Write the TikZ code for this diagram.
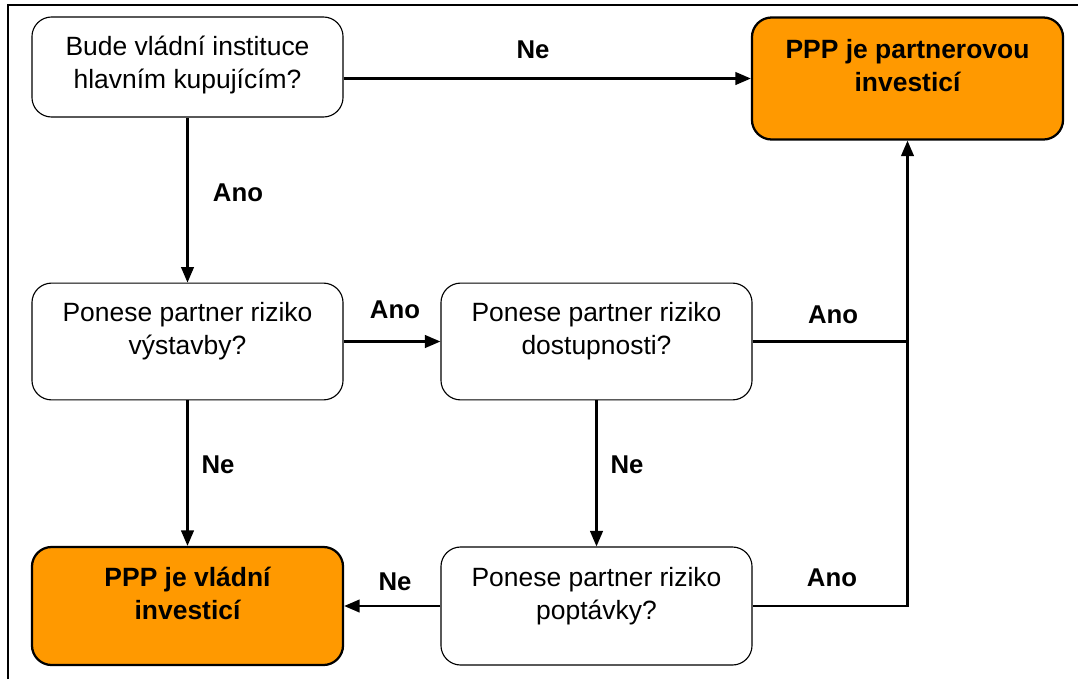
\documentclass[tikz,border=0pt]{standalone}
\usepackage{fontspec}
\setmainfont{Liberation Sans}
\usetikzlibrary{arrows.meta, positioning}

\definecolor{pppOrange}{RGB}{255,153,0}

\tikzset{
    question/.style={draw, line width=0.8pt, rounded corners=14pt, fill=white,
        minimum width=7.775cm, minimum height=2.92cm, align=center, text depth=18pt,
        font=\fontsize{18.8}{23.4}\selectfont},
    result/.style={question, line width=1.6pt, fill=pppOrange, minimum height=2.95cm,
        font=\fontsize{18.8}{23.4}\selectfont\bfseries},
    flow/.style={line width=1.5pt, -{Triangle[length=11pt, width=9pt]}},
    answer/.style={font=\fontsize{18.3}{22}\selectfont\bfseries}
}

\begin{document}
\begin{tikzpicture}[x=0.025cm, y=-0.025cm]
        \useasboundingbox (0,0) rectangle (1078,679);
        % frame
        \draw[line width=0.8pt] (8,679) -- (8,5) -- (1078,5);
        % boxes
        \node[question, minimum height=2.5cm, text depth=7pt] (gov_buyer) at (187.5,67) {Bude vládní instituce\\hlavním kupujícím?};
        \node[result, minimum height=3.05cm] (ppp_partner) at (907.5,78.5) {PPP je partnerovou\\investicí};
        \node[question] (build_risk) at (187.5,341.5) {Ponese partner riziko\\výstavby?};
        \node[question] (avail_risk) at (596.5,341.5) {Ponese partner riziko\\dostupnosti?};
        \node[result] (ppp_gov) at (187.5,606) {PPP je vládní\\investicí};
        \node[question, minimum height=2.95cm] (demand_risk) at (596.5,606) {Ponese partner riziko\\poptávky?};
        \coordinate (join) at (ppp_partner.south |- avail_risk.east);
        % connectors
        \draw[flow] (gov_buyer.east |- ppp_partner.west) -- (ppp_partner.west);
        \draw[flow] (gov_buyer) -- (build_risk);
        \draw[flow] (build_risk) -- (avail_risk);
        \draw[flow] (build_risk) -- (ppp_gov);
        \draw[flow] (avail_risk) -- (demand_risk);
        \draw[flow] (demand_risk) -- (ppp_gov);
        \draw[flow] (avail_risk.east) -- (join) -- (ppp_partner.south);
        \draw[line width=1.5pt] (demand_risk.east) -| (join);
        % answers
        \node[answer] at (533,50) {Ne};
        \node[answer] at (238,193) {Ano};
        \node[answer] at (395,310) {Ano};
        \node[answer] at (833,315) {Ano};
        \node[answer] at (218,465) {Ne};
        \node[answer] at (627,465) {Ne};
        \node[answer] at (395,582) {Ne};
        \node[answer] at (832,578) {Ano};
    \end{tikzpicture}
\end{document}
